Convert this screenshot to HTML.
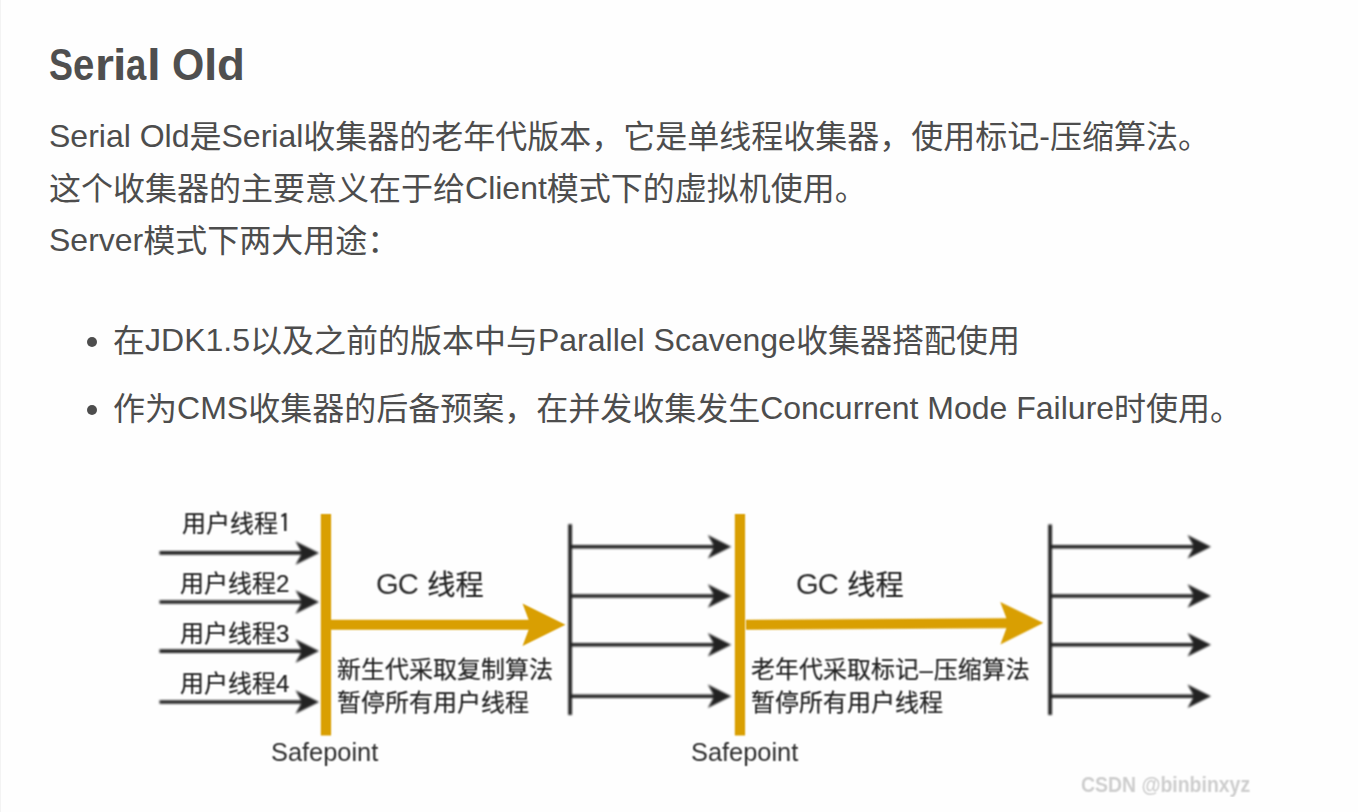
<!DOCTYPE html>
<html lang="zh-CN">
<head>
<meta charset="utf-8">
<title>Serial Old</title>
<style>
html,body{margin:0;padding:0;}
body{width:1358px;height:812px;overflow:hidden;background:#fefefe;position:relative;
  font-family:"Liberation Sans","Noto Sans CJK SC",sans-serif;color:#4d4d4d;}
#edge{position:absolute;left:0;top:0;width:1px;height:812px;background:#f3f3f3;}
h2{position:absolute;left:49.26px;top:39px;margin:0;font-size:44px;line-height:52px;font-weight:bold;color:#4f4f4f;white-space:pre;}
h2 span{display:inline-block;transform-origin:0 0;white-space:pre;}
p{position:absolute;left:49px;margin:0;font-size:32px;line-height:52px;white-space:nowrap;}
.l{position:relative;top:-1px;}
ul{position:absolute;left:0;top:0;margin:0;padding:0;list-style:none;}
li{position:absolute;left:113px;font-size:32px;line-height:52px;white-space:nowrap;}
li::before{content:"";position:absolute;left:-26px;top:22px;width:10px;height:10px;border-radius:50%;background:#4d4d4d;}
svg{position:absolute;left:0;top:480px;font-family:"Liberation Sans","Noto Sans CJK SC",sans-serif;}
.la{fill:#2e2e2e;stroke:none;}
</style>
</head>
<body>
<div id="edge"></div>
<h2><span style="width:23.74px;transform:scaleX(0.816)">S</span><span style="width:22.09px;transform:scaleX(0.871)">e</span><span style="width:17.75px;transform:scaleX(1.106)">r</span><span style="width:12.69px;transform:scaleX(1.093)">i</span><span style="width:21.61px;transform:scaleX(0.827)">a</span><span style="width:12.46px;transform:scaleX(1.126)">l</span><span style="width:12.50px"> </span><span style="width:32.14px;transform:scaleX(0.942)">O</span><span style="width:12.39px;transform:scaleX(1.093)">l</span><span style="width:30.00px;transform:scaleX(1.037)">d</span></h2>
<p style="top:111px"><span class="l">Serial Old</span>是<span class="l">Serial</span>收集器的老年代版本，它是单线程收集器，使用标记<span class="l">-</span>压缩算法。<br>这个收集器的主要意义在于给<span class="l">Client</span>模式下的虚拟机使用。<br><span class="l">Server</span>模式下两大用途：</p>
<ul>
<li style="top:315px">在<span class="l">JDK1.5</span>以及之前的版本中与<span class="l">Parallel Scavenge</span>收集器搭配使用</li>
<li style="top:383px">作为<span class="l">CMS</span>收集器的后备预案，在并发收集发生<span class="l">Concurrent Mode Failure</span>时使用。</li>
</ul>
<svg width="1358" height="332" viewBox="0 480 1358 332">
<defs>
<filter id="b" x="-5%" y="-5%" width="110%" height="110%" color-interpolation-filters="sRGB"><feGaussianBlur stdDeviation="1"/></filter>
<filter id="c" x="-2%" y="-2%" width="104%" height="104%" color-interpolation-filters="sRGB"><feConvolveMatrix order="3" kernelMatrix="1 2 1 2 4 2 1 2 1" divisor="16" edgeMode="none" preserveAlpha="false"/></filter>
</defs>
<g filter="url(#c)">
<rect x="320.8" y="514" width="10.3" height="221.5" fill="#d99f02"/>
<rect x="734.8" y="514" width="10.3" height="221.5" fill="#d99f02"/>
<g><line x1="331" y1="624.7" x2="531.5" y2="624.7" stroke="#d99f02" stroke-width="10"/><path d="M565.5 624.7 L522.5 603.45 L530.5 624.7 L522.5 645.95 Z" fill="#d99f02"/></g>
<g transform="rotate(-0.35 746 624.8)"><line x1="746" y1="624.8" x2="1009.3" y2="624.8" stroke="#d99f02" stroke-width="10"/><path d="M1043.3 624.8 L1000.3 603.55 L1008.3 624.8 L1000.3 646.05 Z" fill="#d99f02"/></g>
</g>
<g filter="url(#b)">
<line x1="159.5" y1="552.9" x2="303.0" y2="552.9" stroke="#222" stroke-width="3.6"/><path d="M319 552.9 L295.5 541.15 L302.0 552.9 L295.5 564.65 Z" fill="#222"/>
<line x1="159.5" y1="602.0" x2="303.0" y2="602.0" stroke="#222" stroke-width="3.6"/><path d="M319 602.0 L295.5 590.25 L302.0 602.0 L295.5 613.75 Z" fill="#222"/>
<line x1="159.5" y1="651.1" x2="303.0" y2="651.1" stroke="#222" stroke-width="3.6"/><path d="M319 651.1 L295.5 639.35 L302.0 651.1 L295.5 662.85 Z" fill="#222"/>
<line x1="159.5" y1="702.0" x2="303.0" y2="702.0" stroke="#222" stroke-width="3.6"/><path d="M319 702.0 L295.5 690.25 L302.0 702.0 L295.5 713.75 Z" fill="#222"/>
<line x1="570.1" y1="524.2" x2="570.1" y2="715" stroke="#222" stroke-width="3.8"/>
<line x1="1050.1" y1="524.5" x2="1050.1" y2="715" stroke="#222" stroke-width="3.8"/>
<line x1="570" y1="546.7" x2="715.3" y2="546.7" stroke="#222" stroke-width="3.6"/><path d="M731.3 546.7 L707.8 534.95 L714.3 546.7 L707.8 558.45 Z" fill="#222"/>
<line x1="1050" y1="546.7" x2="1195.0" y2="546.7" stroke="#222" stroke-width="3.6"/><path d="M1211 546.7 L1187.5 534.95 L1194.0 546.7 L1187.5 558.45 Z" fill="#222"/>
<line x1="570" y1="596.0" x2="715.3" y2="596.0" stroke="#222" stroke-width="3.6"/><path d="M731.3 596.0 L707.8 584.25 L714.3 596.0 L707.8 607.75 Z" fill="#222"/>
<line x1="1050" y1="596.0" x2="1195.0" y2="596.0" stroke="#222" stroke-width="3.6"/><path d="M1211 596.0 L1187.5 584.25 L1194.0 596.0 L1187.5 607.75 Z" fill="#222"/>
<line x1="570" y1="644.8" x2="715.3" y2="644.8" stroke="#222" stroke-width="3.6"/><path d="M731.3 644.8 L707.8 633.05 L714.3 644.8 L707.8 656.55 Z" fill="#222"/>
<line x1="1050" y1="644.8" x2="1195.0" y2="644.8" stroke="#222" stroke-width="3.6"/><path d="M1211 644.8 L1187.5 633.05 L1194.0 644.8 L1187.5 656.55 Z" fill="#222"/>
<line x1="570" y1="696.2" x2="715.3" y2="696.2" stroke="#222" stroke-width="3.6"/><path d="M731.3 696.2 L707.8 684.45 L714.3 696.2 L707.8 707.95 Z" fill="#222"/>
<line x1="1050" y1="696.2" x2="1195.0" y2="696.2" stroke="#222" stroke-width="3.6"/><path d="M1211 696.2 L1187.5 684.45 L1194.0 696.2 L1187.5 707.95 Z" fill="#222"/>
</g>
<g filter="url(#c)" fill="#222" stroke="#222" stroke-width="0.2">
<text x="182" y="532" font-size="24">用户线程<tspan font-family="IPAGothic,sans-serif" font-size="25.5" dx="0.5">1</tspan></text>
<text x="180" y="592" font-size="24">用户线程2</text>
<text x="180" y="642" font-size="24">用户线程3</text>
<text x="180" y="691.5" font-size="24">用户线程4</text>
<text x="375.9" y="594" font-size="28.2"><tspan font-size="29.2" letter-spacing="-0.9" class="la">GC </tspan><tspan x="427.2" y="594.5">线程</tspan></text>
<text x="795.9" y="594" font-size="28.2"><tspan font-size="29.2" letter-spacing="-0.9" class="la">GC </tspan><tspan x="847.2" y="594.5">线程</tspan></text>
<text x="337" y="678" font-size="24">新生代采取复制算法</text>
<text x="337" y="711" font-size="24">暂停所有用户线程</text>
<text x="751" y="678" font-size="24">老年代采取标记<tspan dx="0.5">–</tspan><tspan dx="1">压缩算法</tspan></text>
<text x="751" y="711" font-size="24">暂停所有用户线程</text>
<text x="271" y="760.5" font-size="25.4" class="la">Safepoint</text>
<text x="691" y="760.5" font-size="25.4" class="la">Safepoint</text>
</g>
<g filter="url(#c)"><text transform="translate(1081 791.5) scale(0.865 1)" font-size="22.5" font-weight="bold" fill="#cecece">CSDN @binbinxyz</text></g>
</svg>
</body>
</html>
